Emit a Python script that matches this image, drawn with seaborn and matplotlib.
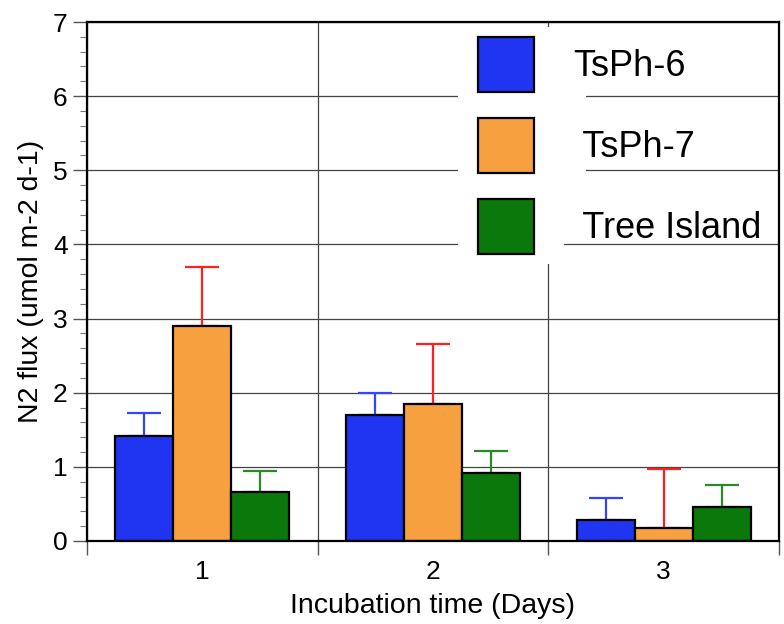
import numpy as np
import pandas as pd
import matplotlib
matplotlib.use("Agg")
import matplotlib.pyplot as plt
import seaborn as sns
from matplotlib.patches import Rectangle
from matplotlib.ticker import MultipleLocator, FixedLocator, NullFormatter

# ---- data ----
days = ["1", "2", "3"]
samples = ["TsPh-6", "TsPh-7", "Tree Island"]
legend_labels = ["TsPh-6", " TsPh-7", " Tree Island"]
tsph6 = [1.42, 1.70, 0.28]
tsph7 = [2.90, 1.85, 0.17]
tree_island = [0.66, 0.92, 0.455]
tsph6_err = [0.30, 0.29, 0.30]
tsph7_err = [0.80, 0.81, 0.80]
tree_island_err = [0.29, 0.30, 0.305]

bar_colors = ["#1f35f2", "#f7a040", "#0b780b"]
err_colors = ["#3344ff", "#ff2020", "#2a8a2a"]

df = pd.DataFrame({
    "day": days * 3,
    "sample": [s for s in samples for _ in days],
    "flux": tsph6 + tsph7 + tree_island,
})
errs = [tsph6_err, tsph7_err, tree_island_err]

sns.set_style("white")
plt.rcParams["font.family"] = ["Liberation Sans", "DejaVu Sans"]
plt.rcParams["text.color"] = "black"
plt.rcParams["axes.labelcolor"] = "black"

fig = plt.figure(figsize=(7.84, 6.24), dpi=100)
ax = fig.add_axes([87 / 784, 1 - 541 / 624, (779 - 87) / 784, (541 - 22) / 624])

sns.barplot(data=df, x="day", y="flux", hue="sample", hue_order=samples,
            order=days, palette=bar_colors, width=0.755, saturation=1,
            edgecolor="black", linewidth=1.6, errorbar=None, ax=ax, zorder=2)

handles = ax.get_legend().legend_handles
ax.get_legend().remove()

for cont, e, ec in zip(ax.containers, errs, err_colors):
    xs = [p.get_x() + p.get_width() / 2 for p in cont.patches]
    ys = [p.get_height() for p in cont.patches]
    ax.errorbar(xs, ys, yerr=[np.zeros(len(e)), e], fmt="none", ecolor=ec,
                elinewidth=1.6, capsize=12, capthick=1.6, zorder=1.8)

ax.set_xlim(-0.5, 2.5)
ax.set_ylim(0, 7)

# y ticks
ax.yaxis.set_major_locator(MultipleLocator(1))
ax.yaxis.set_minor_locator(MultipleLocator(0.2))
ax.tick_params(axis="y", which="major", direction="out", length=10, width=1,
               color="#555555", labelcolor="black", labelsize=19, pad=4, left=True)
ax.tick_params(axis="y", which="minor", direction="out", length=5, width=0.8,
               color="#777777", left=True)
# x ticks: labels at centers, ticks at group boundaries
ax.xaxis.set_minor_locator(FixedLocator([-0.5, 0.5, 1.5, 2.5]))
ax.xaxis.set_minor_formatter(NullFormatter())
ax.tick_params(axis="x", which="major", length=0, labelsize=19, pad=14,
               labelcolor="black")
ax.tick_params(axis="x", which="minor", direction="out", length=10, width=1,
               color="#555555", bottom=True)

ax.set_axisbelow(True)
ax.grid(True, which="major", axis="y", color="#444444", linewidth=0.9)
ax.grid(True, which="minor", axis="x", color="#444444", linewidth=0.9)
ax.grid(False, which="major", axis="x")

for s in ax.spines.values():
    s.set_visible(True)
    s.set_color("black")
    s.set_linewidth(1.6)

ax.set_xlabel("Incubation time (Days)", fontsize=20.5, labelpad=6)
ax.set_ylabel("N2 flux (umol m-2 d-1)", fontsize=20.5, labelpad=6)

# white area behind the legend symbols (covers gridlines as in original)
for (x0, x1, y0, y1) in [(458, 586, 27, 232), (458, 564, 232, 264)]:
    r = Rectangle((x0 / 784, 1 - y1 / 624), (x1 - x0) / 784, (y1 - y0) / 624,
                  transform=fig.transFigure, facecolor="white", edgecolor="none",
                  zorder=1)
    ax.add_patch(r)

leg = ax.legend(handles, legend_labels, loc="upper left",
                bbox_to_anchor=(478 / 784, 1 - 37 / 624),
                bbox_transform=fig.transFigure, frameon=False, fontsize=26,
                handlelength=1.55, handleheight=1.97, labelspacing=0.72,
                handletextpad=1.08, borderpad=0, borderaxespad=0)
for h in leg.legend_handles:
    h.set_edgecolor("black")
    h.set_linewidth(1.6)
for t in leg.get_texts():
    t.set_color("black")

fig.savefig("out.png", dpi=100)
